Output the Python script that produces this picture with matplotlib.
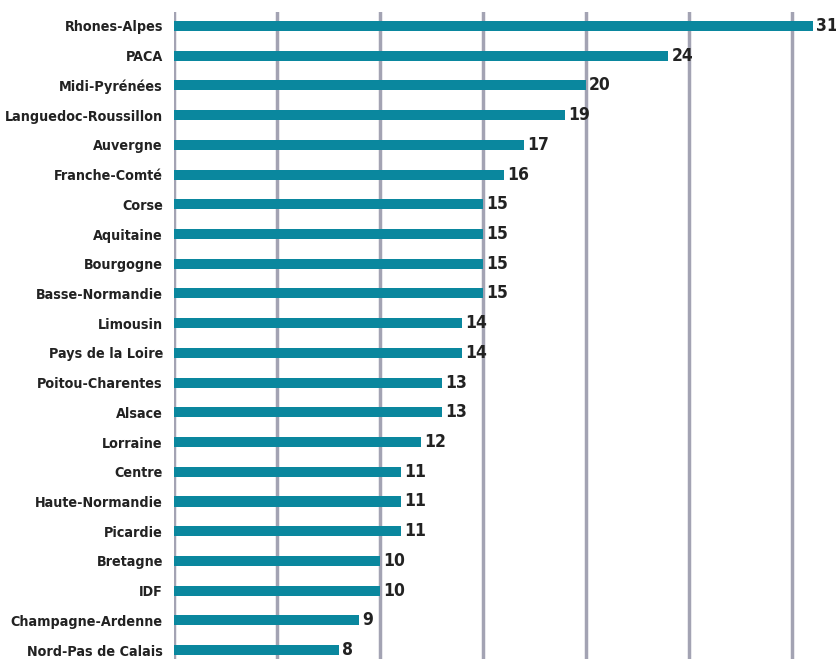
import matplotlib
matplotlib.use('Agg')
import matplotlib.pyplot as plt
from matplotlib import font_manager

regions = ['Rhones-Alpes', 'PACA', 'Midi-Pyrénées', 'Languedoc-Roussillon', 'Auvergne',
           'Franche-Comté', 'Corse', 'Aquitaine', 'Bourgogne', 'Basse-Normandie',
           'Limousin', 'Pays de la Loire', 'Poitou-Charentes', 'Alsace', 'Lorraine',
           'Centre', 'Haute-Normandie', 'Picardie', 'Bretagne', 'IDF',
           'Champagne-Ardenne', 'Nord-Pas de Calais']
values = [31, 24, 20, 19, 17, 16, 15, 15, 15, 15, 14, 14, 13, 13, 12, 11, 11, 11, 10, 10, 9, 8]
grid_ticks = [0, 5, 10, 15, 20, 25, 30]

# narrow bold face, closest thing to the condensed font of the original
cands = [f for f in font_manager.fontManager.ttflist
         if ('Condensed' in f.fname or 'Narrow' in f.fname)]
bold = [f for f in cands if 'Bold' in f.fname and 'Oblique' not in f.fname and 'Italic' not in f.fname]
pick = bold or cands
if pick:
    fp_lab = font_manager.FontProperties(fname=pick[0].fname, size=10.3)
    fp_val = font_manager.FontProperties(fname=pick[0].fname, size=12.5)
else:
    fp_lab = font_manager.FontProperties(family='DejaVu Sans', weight='bold', size=9.5)
    fp_val = font_manager.FontProperties(family='DejaVu Sans', weight='bold', size=11.5)

fig = plt.figure(figsize=(8.36, 6.59), dpi=100)
ax = fig.add_axes([174/836, 0, 662/836, 647/659])

pos = list(range(len(regions)))
ax.barh(pos, values, height=0.34, color='#0a879e', zorder=3)
for p, v in zip(pos, values):
    ax.text(v + 0.15, p, str(v), ha='left', va='center', fontproperties=fp_val,
            color='#222222', zorder=4)

ax.set_xlim(0, 662/20.6)
ax.set_ylim(21.3, -0.47)
ax.set_xticks(grid_ticks)
ax.grid(axis='x', color='#a3a3b3', linewidth=2.5, zorder=0)
ax.tick_params(length=0, labelbottom=False)
ax.set_yticks(pos)
ax.set_yticklabels(regions, color='#222222')
for t in ax.get_yticklabels():
    t.set_fontproperties(fp_lab)
ax.tick_params(axis='y', pad=8)
for s in ax.spines.values():
    s.set_visible(False)

fig.savefig('out.png', dpi=100)
